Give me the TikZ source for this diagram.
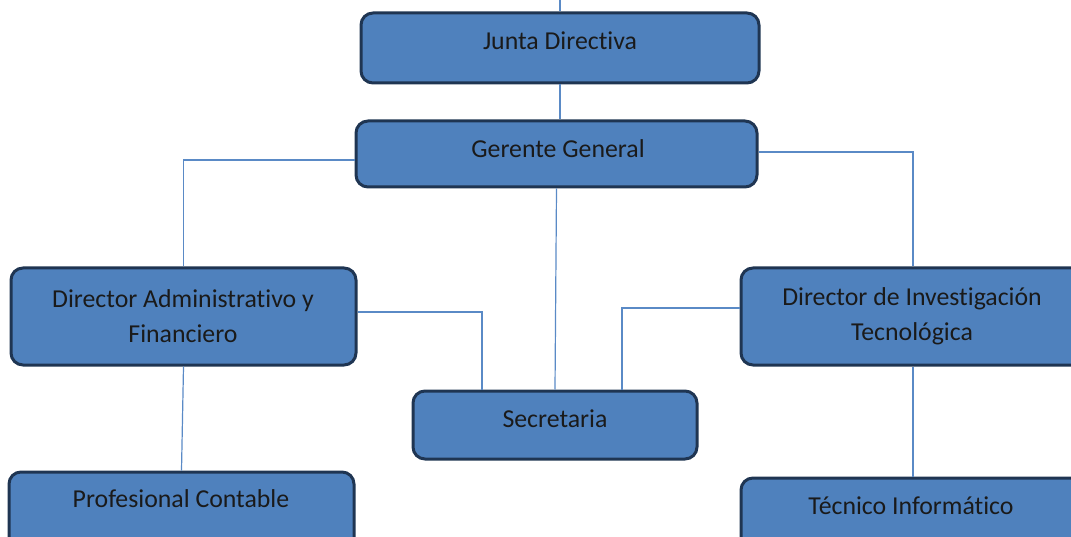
\documentclass[tikz,border=0pt]{standalone}
\usepackage{fontspec}
\setmainfont{Carlito}[RawFeature={-liga;-clig}]
\usetikzlibrary{calc}
\definecolor{boxfill}{HTML}{4F81BD}
\definecolor{boxedge}{HTML}{1F3552}
\definecolor{linkcol}{HTML}{5A8AC6}
\definecolor{txtcol}{HTML}{1A1A1A}
\tikzset{
  orgbox/.style={draw=boxedge, line width=3pt, fill=boxfill, rounded corners=12pt, inner sep=0pt},
  orgtxt/.style={text=txtcol, font=\fontsize{25.8}{35}\selectfont, align=center, inner sep=0pt},
  link/.style={draw=linkcol, line width=1.2pt}
}
\begin{document}
\begin{tikzpicture}[x=1pt,y=-1pt]
\useasboundingbox (0,0) rectangle (1071,537);
\clip (0,0) rectangle (1071,537);
\coordinate (top) at (560,0);
\node[orgbox, minimum width=398pt, minimum height=70pt] (jd) at (560,48) {};
\node[orgbox, minimum width=401pt, minimum height=66pt] (gg) at (556.5,154) {};
\node[orgbox, minimum width=345pt, minimum height=97pt] (da) at (183.5,316.5) {};
\node[orgbox, minimum width=344pt, minimum height=97pt] (di) at (913,316.5) {};
\node[orgbox, minimum width=284pt, minimum height=68pt] (se) at (555,425) {};
\node[orgbox, minimum width=345pt, minimum height=78pt] (pc) at (181.5,511) {};
\node[orgbox, minimum width=344pt, minimum height=78pt] (ti) at (913,517) {};
\draw[link] (jd.north) -- (top);
\draw[link] (jd.south) -- (jd.south |- gg.north);
\draw[link] ([yshift=-6pt]gg.west) -| (da.north);
\draw[link] ([yshift=2pt]gg.east) -| (di.north);
\draw[link] (gg.south) -- (se.north);
\draw[link] ([yshift=4.5pt]da.east) -| ([xshift=-73pt]se.north);
\draw[link] ([yshift=8.5pt]di.west) -| ([xshift=67pt]se.north);
\draw[link] (da.south) -- (pc.north);
\draw[link] (di.south) -- (ti.north);
\node[orgtxt] (tjd) at (560,41) {Junta Directiva};
\node[orgtxt] (tgg) at (558,149) {Gerente General};
\node[orgtxt] (tda) at (183,316) {Director Administrativo y\\Financiero};
\node[orgtxt] (tdi) at (912,316) {Director de Investigación\\Tecnológica};
\node[orgtxt] (tse) at (555,419) {Secretaria};
\node[orgtxt] (tpc) at (181,499) {Profesional Contable};
\node[orgtxt] (tti) at (911,506) {Técnico Informático};
\end{tikzpicture}
\end{document}
